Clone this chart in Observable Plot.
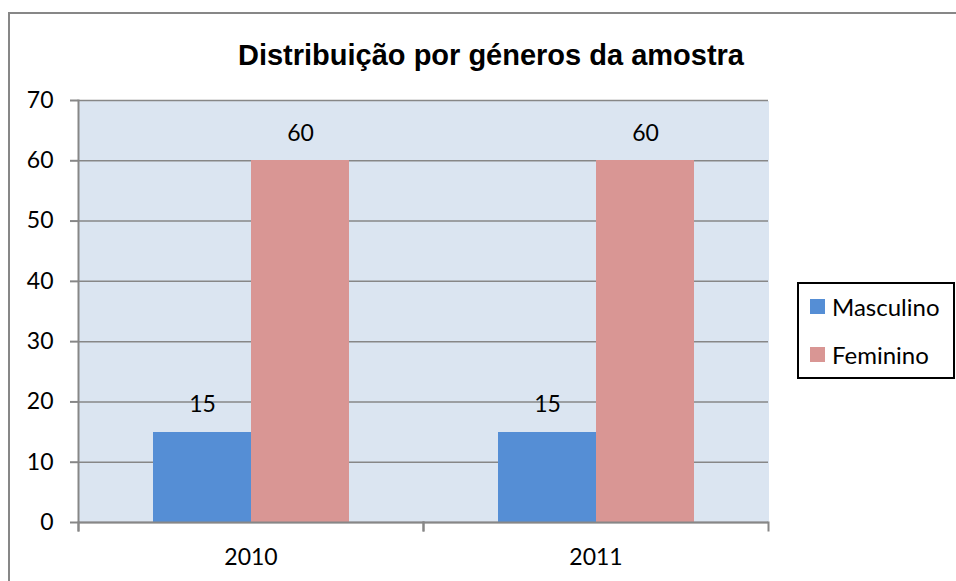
<!DOCTYPE html>
<html>
<head>
<meta charset="utf-8">
<script src="https://cdn.jsdelivr.net/npm/d3@7"></script>
<script src="https://cdn.jsdelivr.net/npm/@observablehq/plot@0.6"></script>
<style>
  html, body { margin: 0; padding: 0; background: #fff; }
  body { width: 956px; height: 581px; position: relative; overflow: hidden; }
  #border { position: absolute; left: 8px; top: 12px; width: 1000px; height: 700px;
            border-left: 2px solid #878787; border-top: 2px solid #878787; }
  #title { position: absolute; left: 0; top: 40px; width: 982px; text-align: center;
           font: bold 29px "Liberation Sans", Arial, sans-serif; line-height: 30px; color: #000; }
  #chart { position: absolute; left: 0; top: 80px; }
  #legend { position: absolute; left: 797px; top: 282px; width: 158px; height: 97px;
            box-sizing: border-box; border: 2px solid #000; background: #fff; }
  .item { position: absolute; left: 11px; height: 30px; display: flex; align-items: center;
          font: 24px Lato, sans-serif; color: #000; white-space: nowrap; }
  .sw { width: 15px; height: 15px; margin-right: 7px; flex: none; }
</style>
</head>
<body>
<div id="border"></div>
<div id="title">Distribuição por géneros da amostra</div>
<div id="chart"></div>
<div id="legend"></div>
<script>
const years = ["2010", "2011"];
const genders = ["Masculino", "Feminino"];
const masculino = [15, 15];
const feminino = [60, 60];
const colors = ["#558ed5", "#d99694"];
const yTicks = [0, 10, 20, 30, 40, 50, 60, 70];

const data = years.flatMap((year, i) => [
  {year, gender: genders[0], value: masculino[i]},
  {year, gender: genders[1], value: feminino[i]}
]);

const gray = "#878787";
const plot = Plot.plot({
  width: 956,
  height: 501,
  marginLeft: 78,
  marginRight: 188,
  marginTop: 20,
  marginBottom: 59,
  style: {fontFamily: "Lato, sans-serif", fontSize: "23px", color: "#000", background: "none", overflow: "visible"},
  fx: {domain: years, padding: 0, label: null},
  x: {domain: genders, paddingInner: 0, paddingOuter: 0.75, axis: null},
  y: {domain: [0, 70], label: null},
  color: {domain: genders, range: colors},
  marks: [
    Plot.frame({fill: "#dbe5f1", shapeRendering: "crispEdges"}),
    Plot.gridY(yTicks, {stroke: gray, strokeOpacity: 1, strokeWidth: 1.5}),
    Plot.barY(data, {fx: "year", x: "gender", y: "value", fill: "gender", shapeRendering: "crispEdges"}),
    Plot.text(data, {fx: "year", x: "gender", y: "value", text: d => String(d.value), dy: -27, fill: "#000", fontSize: 23}),
    Plot.ruleY([0], {stroke: gray, strokeWidth: 2}),
    Plot.frame({anchor: "left", facetAnchor: "left", insetBottom: -8, stroke: gray, strokeWidth: 2}),
    Plot.frame({anchor: "left", insetTop: 422, insetBottom: -8, stroke: gray, strokeWidth: 2}),
    Plot.frame({anchor: "right", insetTop: 422, insetBottom: -8, stroke: gray, strokeWidth: 2}),
    Plot.axisY(yTicks, {tickSize: 8, tickPadding: 17, stroke: gray, strokeWidth: 2, fill: "#000", label: null}),
    Plot.axisFx({anchor: "bottom", tickSize: 0, tickPadding: 26, fill: "#000", label: null})
  ]
});
document.getElementById("chart").appendChild(plot);

const legend = document.getElementById("legend");
genders.forEach((g, i) => {
  const item = document.createElement("div");
  item.className = "item";
  item.style.top = (7 + i * 48) + "px";
  const sw = document.createElement("div");
  sw.className = "sw";
  sw.style.background = colors[i];
  const label = document.createElement("span");
  label.textContent = g;
  item.appendChild(sw);
  item.appendChild(label);
  legend.appendChild(item);
});
</script>
</body>
</html>
